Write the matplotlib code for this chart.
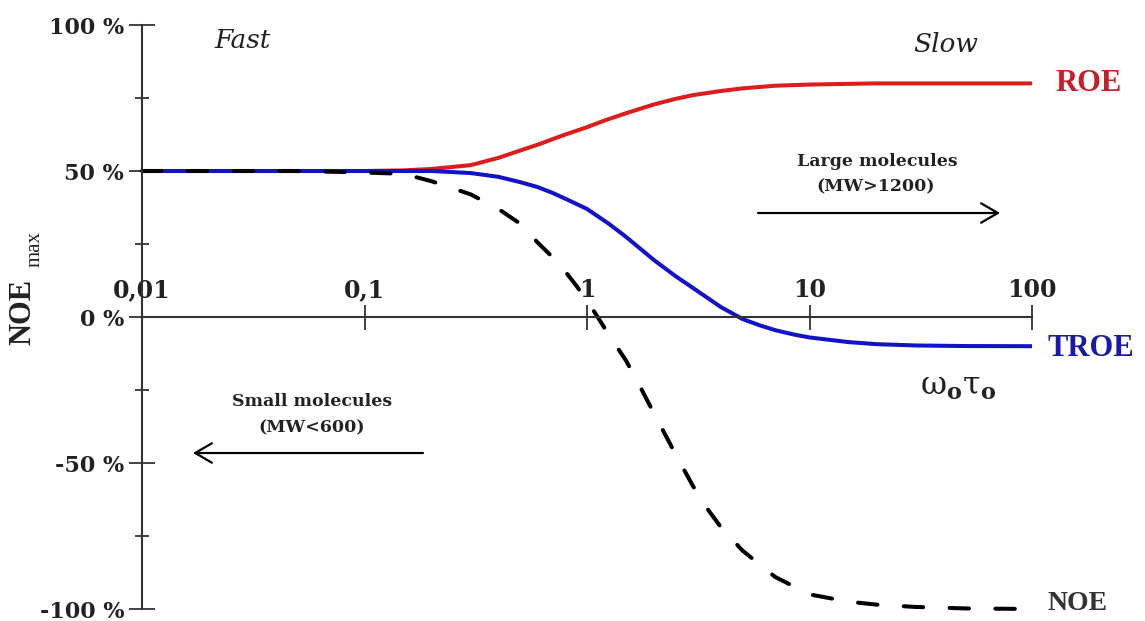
import numpy as np
import matplotlib
matplotlib.use('Agg')
import matplotlib.pyplot as plt
from matplotlib.ticker import FixedLocator, NullLocator

# values (x = omega0*tau0, y = NOE max in %)
roe_x = [0.01, 0.05, 0.1, 0.15, 0.2, 0.3, 0.4, 0.5, 0.6, 0.7, 0.8, 1.0, 1.2, 1.5,
         2.0, 2.5, 3.0, 4.0, 5.0, 7.0, 10, 15, 20, 50, 100]
roe_y = [50, 50, 50, 50.2, 50.7, 52, 54.5, 57, 59, 60.9, 62.5, 65, 67.3, 69.8,
         72.8, 74.7, 76, 77.4, 78.3, 79.2, 79.6, 79.85, 80, 80, 80]

troe_x = [0.01, 0.05, 0.1, 0.2, 0.3, 0.4, 0.5, 0.6, 0.7, 0.8, 1.0, 1.25, 1.5,
          2.0, 2.5, 3.0, 4.0, 5.0, 6.0, 7.0, 8.5, 10, 15, 20, 30, 50, 100]
troe_y = [50, 50, 50, 50, 49.3, 48, 46.2, 44.5, 42.5, 40.5, 37, 32, 27.4,
          19.5, 14, 9.9, 3.4, -0.7, -2.9, -4.5, -6.0, -7.0, -8.6, -9.3, -9.75, -9.95, -10]

noe_x = [0.01, 0.05, 0.1, 0.15, 0.2, 0.3, 0.4, 0.5, 0.6, 0.7, 0.8, 0.9, 1.0, 1.1,
         1.25, 1.5, 1.75, 2.0, 2.5, 3.0, 3.5, 4.0, 5.0, 7.0, 10, 15, 20, 30, 50, 100]
noe_y = [50, 50, 49.5, 49, 46.5, 42, 37, 32, 25.5, 20.5, 15.5, 10.5, 5.5, 0.8,
         -6, -15, -24.5, -33, -47, -58, -66, -72, -80, -89, -95, -97.5, -98.5,
         -99.3, -99.8, -100]

x_ticks = [0.01, 0.1, 1, 10, 100]
x_labels = ['0,01', '0,1', '1', '10', '100']
y_ticks = [100, 50, 0, -50, -100]
y_labels = ['100 %', '50 %', '0 %', '-50 %', '-100 %']
y_minor = [75, 25, -25, -75]

W, H = 1145, 621
plt.rcParams['lines.scale_dashes'] = False
plt.rcParams['mathtext.fontset'] = 'dejavuserif'
fig = plt.figure(figsize=(W / 100, H / 100), dpi=100)
ax = fig.add_axes([142 / W, 1 - 609 / H, (1032 - 142) / W, (609 - 25) / H])

axis_col = '#333333'
txt_col = '#222222'
red = '#dd1c1c'
blue = '#1212c8'

ax.plot(roe_x, roe_y, color=red, lw=2.9, clip_on=False, solid_capstyle='butt')
ax.plot(troe_x, troe_y, color=blue, lw=2.9, clip_on=False, solid_capstyle='butt')
ax.plot(noe_x, noe_y, color='black', lw=2.9, clip_on=False,
        dashes=(14, 19), dash_capstyle='round')

ax.set_xscale('log')
ax.set_xlim(0.01, 100)
ax.set_ylim(-100, 100)

for s in ['right', 'bottom']:
    ax.spines[s].set_visible(False)
ax.spines['top'].set_position(('data', 0))
for s in ['left', 'top']:
    ax.spines[s].set_color(axis_col)
    ax.spines[s].set_linewidth(1.5)

ax.xaxis.set_ticks_position('top')
ax.xaxis.set_major_locator(FixedLocator(x_ticks))
ax.xaxis.set_minor_locator(NullLocator())
ax.set_xticklabels(x_labels, family='DejaVu Serif', weight='bold', size=17, color=txt_col)
ax.tick_params(axis='x', direction='inout', length=18, width=1.3, color=axis_col, pad=2)

ax.set_yticks(y_ticks)
ax.set_yticks(y_minor, minor=True)
ax.set_yticklabels(y_labels, family='DejaVu Serif', weight='bold', size=16, color=txt_col)
ax.tick_params(axis='y', which='major', direction='inout', length=18.7, width=1.3,
               color=axis_col, pad=3.5)
ax.tick_params(axis='y', which='minor', direction='inout', length=9.4, width=1.3,
               color=axis_col)
ax.set_facecolor('none')

# curve labels
lab_font = dict(family='Liberation Serif', weight='bold', size=22, va='center', ha='left')
ax.annotate('ROE', (100, roe_y[-1]), xytext=(23, 0), textcoords='offset pixels',
            color='#c81e2a', **lab_font, annotation_clip=False)
ax.annotate('TROE', (100, troe_y[-1]), xytext=(16, -2), textcoords='offset pixels',
            color='#1a1aaa', **lab_font, annotation_clip=False)
ax.annotate('NOE', (100, noe_y[-1]), xytext=(15, 6), textcoords='offset pixels',
            color='#333333', **dict(lab_font, size=20), annotation_clip=False)


def px(x, y):
    return x / W, 1 - y / H


fig.text(*px(243, 40), 'Fast', family='DejaVu Serif', style='italic', size=19,
         ha='center', va='center', color=txt_col)
fig.text(*px(946, 45), 'Slow', family='DejaVu Serif', style='italic', size=19,
         ha='center', va='center', color=txt_col)

note_font = dict(family='DejaVu Serif', weight='bold', size=12.5, ha='center',
                 va='center', color=txt_col)
fig.text(*px(877, 161), 'Large molecules', **note_font)
fig.text(*px(876, 187), '(MW>1200)', **note_font)
fig.text(*px(312, 401), 'Small molecules', **note_font)
fig.text(*px(312, 428), '(MW<600)', **note_font)

arrow = dict(arrowstyle='->,head_length=0.6,head_width=0.35', lw=1.6, color='black',
             shrinkA=0, shrinkB=0, mutation_scale=20)
fig.add_artist(matplotlib.patches.FancyArrowPatch(px(758, 213), px(1000, 213),
                                                  transform=fig.transFigure, **arrow))
fig.add_artist(matplotlib.patches.FancyArrowPatch(px(423, 453), px(193, 453),
                                                  transform=fig.transFigure, **arrow))

fig.text(*px(958, 386), r'ω$_\mathbf{o}$τ$_\mathbf{o}$', family='DejaVu Serif', size=23,
         ha='center', va='center', color=txt_col)

# y axis title: NOE with "max" subscript
fig.text(*px(23, 312), 'NOE', family='Liberation Serif', weight='bold', size=22,
         rotation=90, ha='center', va='center', color=txt_col)
fig.text(*px(35, 249), 'max', family='Liberation Serif', size=15,
         rotation=90, ha='center', va='center', color=txt_col)

plt.savefig('out.png', dpi=100)
